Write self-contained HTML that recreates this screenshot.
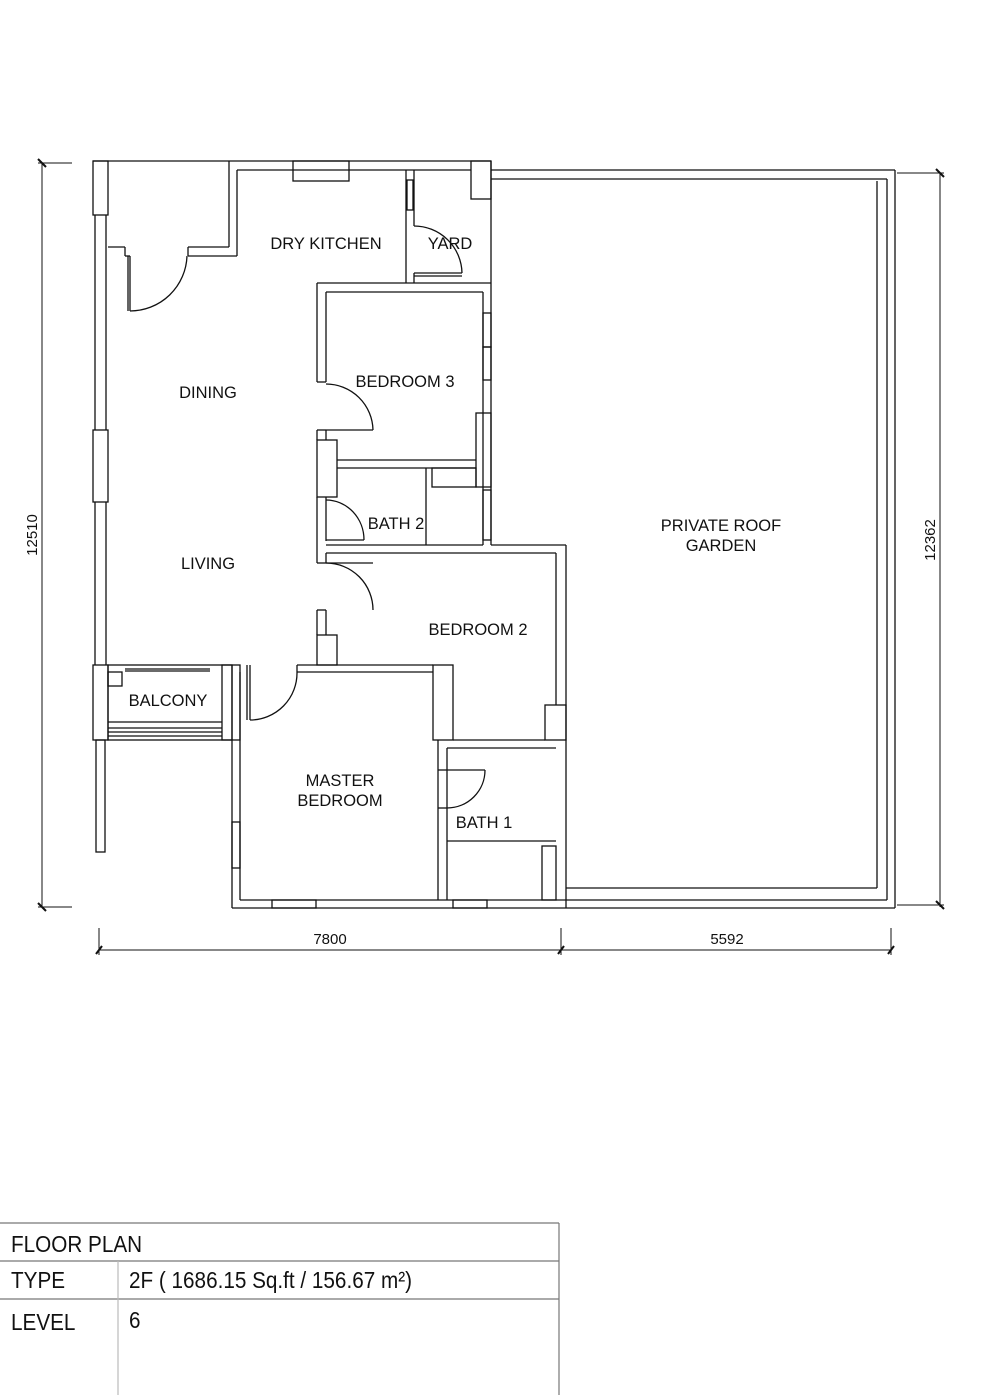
<!DOCTYPE html>
<html><head><meta charset="utf-8"><style>
html,body{margin:0;padding:0;background:#fff;}
svg{display:block}
text{font-family:"Liberation Sans",Arial,sans-serif;fill:#111}
</style></head><body>
<svg width="981" height="1395" viewBox="0 0 981 1395" xmlns="http://www.w3.org/2000/svg">
<g fill="none" stroke="#111" stroke-width="1.3">
<rect x="93" y="161" width="15" height="54"/>
<line x1="95" y1="215" x2="95" y2="430"/><line x1="106" y1="215" x2="106" y2="430"/>
<rect x="93" y="430" width="15" height="72"/>
<line x1="95" y1="502" x2="95" y2="665"/><line x1="106" y1="502" x2="106" y2="665"/>
<rect x="96" y="740" width="9" height="112"/>
<line x1="93" y1="161" x2="491" y2="161"/>
<line x1="237" y1="170" x2="471" y2="170"/>
<line x1="229" y1="161" x2="229" y2="247"/>
<line x1="237" y1="170" x2="237" y2="256"/>
<line x1="108" y1="247" x2="125" y2="247"/>
<line x1="188" y1="247" x2="229" y2="247"/>
<line x1="130" y1="256" x2="125" y2="256"/><line x1="125" y1="247" x2="125" y2="256"/>
<line x1="188" y1="256" x2="237" y2="256"/><line x1="188" y1="247" x2="188" y2="256"/>
<line x1="128" y1="256" x2="128" y2="311"/><line x1="130" y1="256" x2="130" y2="311"/>
<path d="M130 311 A57 57 0 0 0 187 256"/>
<rect x="293" y="161" width="56" height="20"/>
<rect x="471" y="161" width="20" height="38"/>
<line x1="406" y1="170" x2="406" y2="283"/><line x1="414" y1="170" x2="414" y2="226"/>
<rect x="407" y="180" width="6" height="30"/>
<line x1="414" y1="273" x2="414" y2="283"/>
<line x1="414" y1="273" x2="462" y2="273"/><line x1="414" y1="276" x2="462" y2="276"/>
<path d="M414 226 A48 48 0 0 1 462 273"/>
<line x1="491" y1="161" x2="491" y2="545"/>
<line x1="483" y1="292" x2="483" y2="545"/>
<rect x="483" y="313" width="8" height="34"/><rect x="483" y="347" width="8" height="33"/>
<rect x="483" y="490" width="8" height="50"/>
<line x1="317" y1="283" x2="491" y2="283"/>
<line x1="326" y1="292" x2="483" y2="292"/>
<line x1="317" y1="283" x2="317" y2="382"/><line x1="326" y1="292" x2="326" y2="382"/>
<line x1="317" y1="382" x2="326" y2="382"/>
<path d="M326 384 A47 47 0 0 1 373 430"/>
<line x1="326" y1="430" x2="373" y2="430"/>
<line x1="317" y1="430" x2="326" y2="430"/><line x1="317" y1="430" x2="317" y2="440"/><line x1="326" y1="430" x2="326" y2="440"/>
<rect x="317" y="440" width="20" height="57"/>
<line x1="337" y1="460" x2="476" y2="460"/><line x1="337" y1="468" x2="476" y2="468"/>
<rect x="476" y="413" width="15" height="74"/>
<line x1="317" y1="497" x2="317" y2="545"/><line x1="326" y1="497" x2="326" y2="541"/>
<path d="M326 500 A38 40 0 0 1 364 540"/>
<line x1="326" y1="540" x2="364" y2="540"/>
<line x1="426" y1="468" x2="426" y2="545"/>
<rect x="432" y="468" width="44" height="19"/>
<line x1="326" y1="545" x2="483" y2="545"/>
<line x1="317" y1="545" x2="317" y2="563"/>
<line x1="326" y1="553" x2="556" y2="553"/>
<line x1="491" y1="545" x2="566" y2="545"/>
<line x1="326" y1="553" x2="326" y2="563"/>
<line x1="317" y1="563" x2="326" y2="563"/>
<path d="M326 563 A47 47 0 0 1 373 610"/>
<line x1="326" y1="563" x2="373" y2="563"/>
<line x1="317" y1="610" x2="326" y2="610"/>
<line x1="317" y1="610" x2="317" y2="635"/><line x1="326" y1="610" x2="326" y2="635"/>
<rect x="317" y="635" width="20" height="30"/>
<line x1="556" y1="553" x2="556" y2="705"/><line x1="566" y1="545" x2="566" y2="908"/>
<rect x="545" y="705" width="21" height="35"/>
<line x1="297" y1="665" x2="433" y2="665"/><line x1="297" y1="672" x2="433" y2="672"/>
<rect x="433" y="665" width="20" height="75"/>
<line x1="453" y1="740" x2="545" y2="740"/>
<line x1="232" y1="665" x2="232" y2="908"/><line x1="240" y1="672" x2="240" y2="900"/>
<rect x="232" y="822" width="8" height="46"/>
<line x1="250" y1="665" x2="250" y2="720"/><line x1="247" y1="665" x2="247" y2="720"/>
<path d="M250 720 A47 47 0 0 0 297 672"/>
<line x1="297" y1="665" x2="297" y2="672"/>
<line x1="232" y1="908" x2="895" y2="908"/>
<line x1="240" y1="900" x2="887" y2="900"/>
<rect x="272" y="900" width="44" height="8"/>
<rect x="453" y="900" width="34" height="8"/>
<line x1="438" y1="740" x2="438" y2="900"/><line x1="447" y1="748" x2="447" y2="900"/>
<line x1="447" y1="748" x2="556" y2="748"/>
<path d="M447 808 A38 38 0 0 0 485 770"/>
<line x1="447" y1="770" x2="485" y2="770"/>
<line x1="438" y1="770" x2="447" y2="770"/><line x1="438" y1="808" x2="447" y2="808"/>
<line x1="447" y1="841" x2="556" y2="841"/>
<rect x="542" y="846" width="14" height="54"/>
<rect x="93" y="665" width="15" height="75"/>
<rect x="108" y="665" width="124" height="75"/>
<rect x="222" y="665" width="18" height="75"/>
<line x1="125" y1="669" x2="210" y2="669"/><line x1="125" y1="671" x2="210" y2="671"/>
<rect x="108" y="672" width="14" height="14"/>
<line x1="108" y1="722" x2="222" y2="722"/>
<line x1="108" y1="728" x2="222" y2="728"/><line x1="108" y1="732" x2="222" y2="732"/><line x1="108" y1="736" x2="222" y2="736"/>
<line x1="491" y1="170" x2="895" y2="170"/>
<line x1="895" y1="170" x2="895" y2="908"/>
<line x1="491" y1="179" x2="887" y2="179"/>
<line x1="887" y1="179" x2="887" y2="900"/>
<line x1="877" y1="181" x2="877" y2="888"/>
<line x1="566" y1="888" x2="877" y2="888"/>
<line x1="42" y1="163" x2="42" y2="907" stroke-width="1"/>
<line x1="38" y1="163" x2="72" y2="163" stroke-width="1"/>
<line x1="38" y1="907" x2="72" y2="907" stroke-width="1"/>
<line x1="940" y1="173" x2="940" y2="907" stroke-width="1"/>
<line x1="897" y1="173" x2="944" y2="173" stroke-width="1"/>
<line x1="897" y1="905" x2="944" y2="905" stroke-width="1"/>
<line x1="99" y1="950" x2="892" y2="950" stroke-width="1"/>
<line x1="99" y1="928" x2="99" y2="955" stroke-width="1"/>
<line x1="561" y1="928" x2="561" y2="955" stroke-width="1"/>
<line x1="891" y1="928" x2="891" y2="955" stroke-width="1"/>
<g stroke-width="2"><line x1="38" y1="159" x2="46" y2="167"/><line x1="38" y1="903" x2="46" y2="911"/>
<line x1="936" y1="169" x2="944" y2="177"/><line x1="936" y1="901" x2="944" y2="909"/>
<line x1="96" y1="954" x2="102" y2="946"/><line x1="558" y1="954" x2="564" y2="946"/><line x1="888" y1="954" x2="894" y2="946"/></g>
</g>
<g font-size="16.5" text-anchor="middle">
<text x="326" y="249">DRY KITCHEN</text>
<text x="450" y="249">YARD</text>
<text x="208" y="398">DINING</text>
<text x="405" y="387">BEDROOM 3</text>
<text x="396" y="529">BATH 2</text>
<text x="208" y="569">LIVING</text>
<text x="478" y="635">BEDROOM 2</text>
<text x="168" y="706">BALCONY</text>
<text x="340" y="786">MASTER</text>
<text x="340" y="806">BEDROOM</text>
<text x="484" y="828">BATH 1</text>
<text x="721" y="531">PRIVATE ROOF</text>
<text x="721" y="551">GARDEN</text>
<text x="330" y="944" font-size="15">7800</text>
<text x="727" y="944" font-size="15">5592</text>
<text transform="translate(37,535) rotate(-90)" font-size="15">12510</text>
<text transform="translate(935,540) rotate(-90)" font-size="15">12362</text>
</g>
<g stroke="#777" stroke-width="1.2">
<line x1="0" y1="1223" x2="559" y2="1223"/>
<line x1="0" y1="1261" x2="559" y2="1261"/>
<line x1="0" y1="1299" x2="559" y2="1299"/>
<line x1="559" y1="1223" x2="559" y2="1395"/>
<line x1="118" y1="1261" x2="118" y2="1395" stroke="#bbb"/>
</g>
<g font-size="23">
<text transform="translate(11,1252) scale(0.9,1)">FLOOR PLAN</text>
<text transform="translate(11,1288) scale(0.9,1)">TYPE</text>
<text transform="translate(129,1288) scale(0.9,1)">2F ( 1686.15 Sq.ft / 156.67 m²)</text>
<text transform="translate(11,1330) scale(0.9,1)">LEVEL</text>
<text transform="translate(129,1328) scale(0.9,1)">6</text>
</g>
</svg>
</body></html>
